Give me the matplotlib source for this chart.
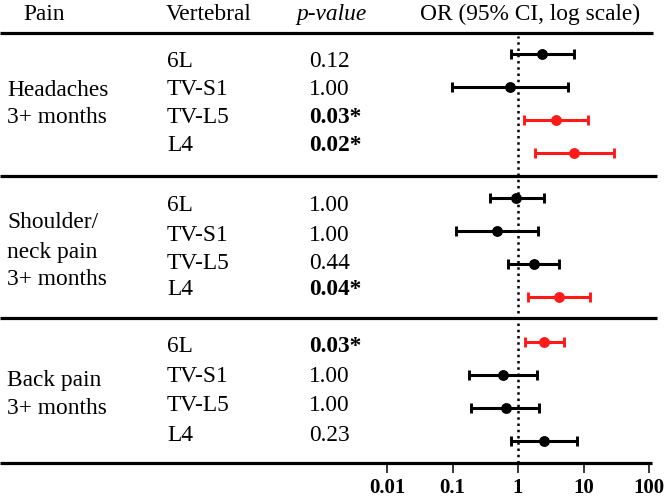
import matplotlib
matplotlib.use("Agg")
import matplotlib.pyplot as plt
import numpy as np

plt.rcParams['font.family'] = ['Liberation Serif', 'DejaVu Serif']

# ---------------- data ----------------
groups = ["Headaches\n3+ months", "Shoulder/\nneck pain\n3+ months", "Back pain\n3+ months"]
vertebral = ["6L", "TV-S1", "TV-L5", "L4"]
p_values = [["0.12", "1.00", "0.03*", "0.02*"],
            ["1.00", "1.00", "0.44", "0.04*"],
            ["0.03*", "1.00", "1.00", "0.23"]]
or_est = [[2.35, 0.75, 3.85, 7.25],
          [0.94, 0.47, 1.78, 4.23],
          [2.53, 0.60, 0.65, 2.50]]
ci_low = [[0.78, 0.099, 1.25, 1.82],
          [0.37, 0.113, 0.70, 1.42],
          [1.26, 0.179, 0.194, 0.77]]
ci_high = [[7.2, 5.8, 11.8, 29.0],
           [2.5, 2.02, 4.28, 12.7],
           [4.98, 1.97, 2.12, 7.9]]
significant = [[False, False, True, True],
               [False, False, False, True],
               [True, False, False, False]]
xticks = [0.01, 0.1, 1, 10, 100]
xtick_labels = ["0.01", "0.1", "1", "10", "100"]

# ---------------- layout (pixels) ----------------
W, H = 666, 498
fig = plt.figure(figsize=(W / 100, H / 100), dpi=100)
ov = fig.add_axes([0, 0, 1, 1])
ov.set_xlim(0, W)
ov.set_ylim(H, 0)
ov.axis("off")

FS = 16.8
CAP = 0.33 * FS * 100 / 72  # half cap height in px

def put(x, yc, s, **kw):
    ov.text(x, yc + CAP, s, va="baseline", ha="left", fontsize=FS, **kw)

# headers
put(23, 12, "Pain")
put(166, 12, "Vertebral")
put(296, 12, "p-value", style="italic")
put(420, 12, "OR (95% CI, log scale)")

# horizontal rules
for y, x1 in [(32.5, 653), (176, 657), (318, 657), (463, 652)]:
    ov.plot([0, x1], [y, y], color="black", lw=2.3, solid_capstyle="butt")

text_rows = [[59, 87, 115, 143], [203, 233, 261, 287], [344, 374, 403, 433]]
group_rows = [[88, 115], [220, 250, 277], [378, 406]]
for g in range(3):
    for line, yc in zip(groups[g].split("\n"), group_rows[g]):
        put(7, yc, line)
    for i in range(4):
        put(167, text_rows[g][i], vertebral[i])
        pv = p_values[g][i]
        put(309, text_rows[g][i], pv, weight="bold" if pv.endswith("*") else "normal")

# ---------------- forest axes ----------------
x_left, x_right = 380, 653
y_top, y_bot = 33, 463
ax = fig.add_axes([x_left / W, 1 - y_bot / H, (x_right - x_left) / W, (y_bot - y_top) / H])
ax.patch.set_alpha(0)
ax.set_xscale("log")
px_per_dec = 65.5
x1px = 518
ax.set_xlim(10 ** ((x_left - x1px) / px_per_dec), 10 ** ((x_right - x1px) / px_per_dec))
ax.set_ylim(y_bot, y_top)
for s in ax.spines.values():
    s.set_visible(False)
ax.set_yticks([])
ax.set_xticks(xticks)
ax.set_xticklabels(xtick_labels, fontsize=15, fontweight="bold")
ax.xaxis.set_minor_locator(matplotlib.ticker.NullLocator())
ax.tick_params(axis="x", direction="out", length=7.5, width=1.1, pad=3.2)

ax.plot([1, 1], [y_bot, 36], color="black", lw=1.8, ls=(0, (1, 1.5)))

for g in range(3):
    for i in range(4):
        y = 54 + g * 144 + i * 33
        c = "#ff1a1a" if significant[g][i] else "black"
        est = or_est[g][i]
        ax.errorbar([est], [y],
                    xerr=[[est - ci_low[g][i]], [ci_high[g][i] - est]],
                    fmt="o", color=c, ms=6.8, lw=2.2, capsize=3.4, capthick=2.1, zorder=3)

fig.savefig("out.png", dpi=100)
